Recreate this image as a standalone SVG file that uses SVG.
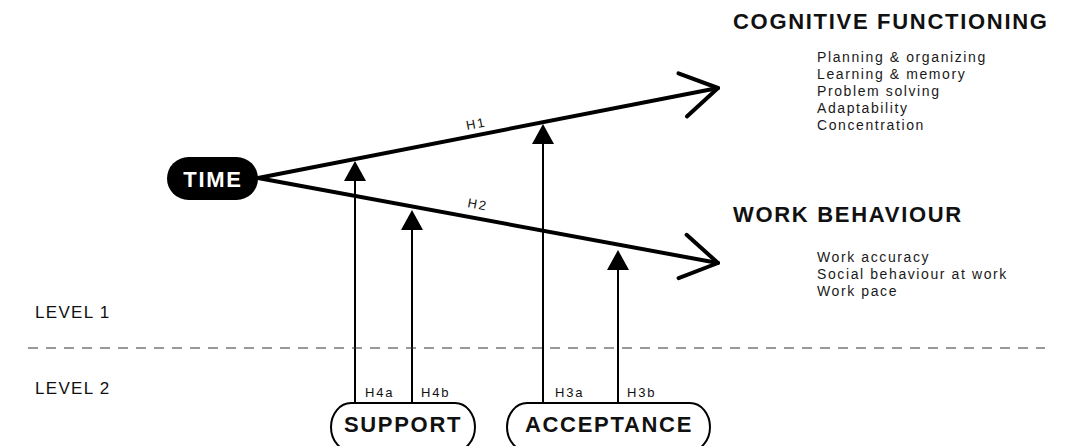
<svg xmlns="http://www.w3.org/2000/svg" width="1076" height="446" viewBox="0 0 1076 446">
<style>
.bold{font-family:"Liberation Sans",Arial,sans-serif;font-weight:bold;font-size:22px;letter-spacing:1.7px;fill:#111}
.item{font-family:"Liberation Sans",Arial,sans-serif;font-size:14px;letter-spacing:1.6px;fill:#1a1a1a}
.lvl{font-family:"Liberation Sans",Arial,sans-serif;font-size:17px;letter-spacing:1.3px;fill:#111}
.h{font-family:"Liberation Sans",Arial,sans-serif;font-size:13px;letter-spacing:1.8px;fill:#111}
.main{stroke:#000;stroke-width:4;fill:none;stroke-linecap:round}
.mod{stroke:#000;stroke-width:2;fill:none}
.pill{fill:#fff;stroke:#000;stroke-width:2}
</style>
<defs>
<marker id="chev" markerUnits="userSpaceOnUse" viewBox="-40 -26 44 52" refX="0" refY="0" markerWidth="44" markerHeight="52" orient="auto" overflow="visible">
<path d="M-36,-22 L0,0 L-36,22" fill="none" stroke="#000" stroke-width="4" stroke-linecap="round" stroke-linejoin="round"/>
</marker>
<marker id="tri" markerUnits="userSpaceOnUse" viewBox="0 -11 20 22" refX="0" refY="0" markerWidth="20" markerHeight="22" orient="auto" overflow="visible">
<path d="M0,-11 L20,0 L0,11 z" fill="#000"/>
</marker>
</defs>
<g id="connectors">
<line class="main" x1="258" y1="178" x2="718" y2="88" marker-end="url(#chev)"/>
<line class="main" x1="258" y1="178" x2="718" y2="263" marker-end="url(#chev)"/>
<line class="mod" x1="355" y1="403" x2="355" y2="181" marker-end="url(#tri)"/>
<line class="mod" x1="412" y1="403" x2="412" y2="230" marker-end="url(#tri)"/>
<line class="mod" x1="543" y1="403" x2="543" y2="144" marker-end="url(#tri)"/>
<line class="mod" x1="618" y1="403" x2="618" y2="270" marker-end="url(#tri)"/>
<text class="h" transform="translate(467,130) rotate(-10.9)" letter-spacing="1">H1</text>
<text class="h" transform="translate(467,207) rotate(10.4)" letter-spacing="1">H2</text>
<text class="h" x="365" y="397">H4a</text>
<text class="h" x="421" y="397">H4b</text>
<text class="h" x="555" y="397">H3a</text>
<text class="h" x="627" y="397">H3b</text>
</g>
<g id="levels">
<line x1="28" y1="348" x2="1045" y2="348" stroke="#333" stroke-width="1" stroke-dasharray="10 8"/>
<text class="lvl" x="35" y="318">LEVEL 1</text>
<text class="lvl" x="35" y="394">LEVEL 2</text>
</g>
<g id="time">
<rect x="167" y="157" width="91" height="43" rx="21.5" fill="#000"/>
<text class="bold" x="213" y="187" text-anchor="middle" style="fill:#fff">TIME</text>
</g>
<g id="cognitive">
<text class="bold" x="733" y="29">COGNITIVE FUNCTIONING</text>
<text class="item" x="817" y="62">Planning &amp; organizing</text>
<text class="item" x="817" y="79">Learning &amp; memory</text>
<text class="item" x="817" y="96">Problem solving</text>
<text class="item" x="817" y="113">Adaptability</text>
<text class="item" x="817" y="130">Concentration</text>
</g>
<g id="work">
<text class="bold" x="733" y="222">WORK BEHAVIOUR</text>
<text class="item" x="817" y="262">Work accuracy</text>
<text class="item" x="817" y="279">Social behaviour at work</text>
<text class="item" x="817" y="296">Work pace</text>
</g>
<g id="support">
<rect class="pill" x="331" y="403" width="144" height="48" rx="20" ry="24"/>
<text class="bold" x="403" y="432" text-anchor="middle">SUPPORT</text>
</g>
<g id="acceptance">
<rect class="pill" x="507" y="403" width="203" height="48" rx="20" ry="24"/>
<text class="bold" x="609" y="432" text-anchor="middle">ACCEPTANCE</text>
</g>
</svg>
